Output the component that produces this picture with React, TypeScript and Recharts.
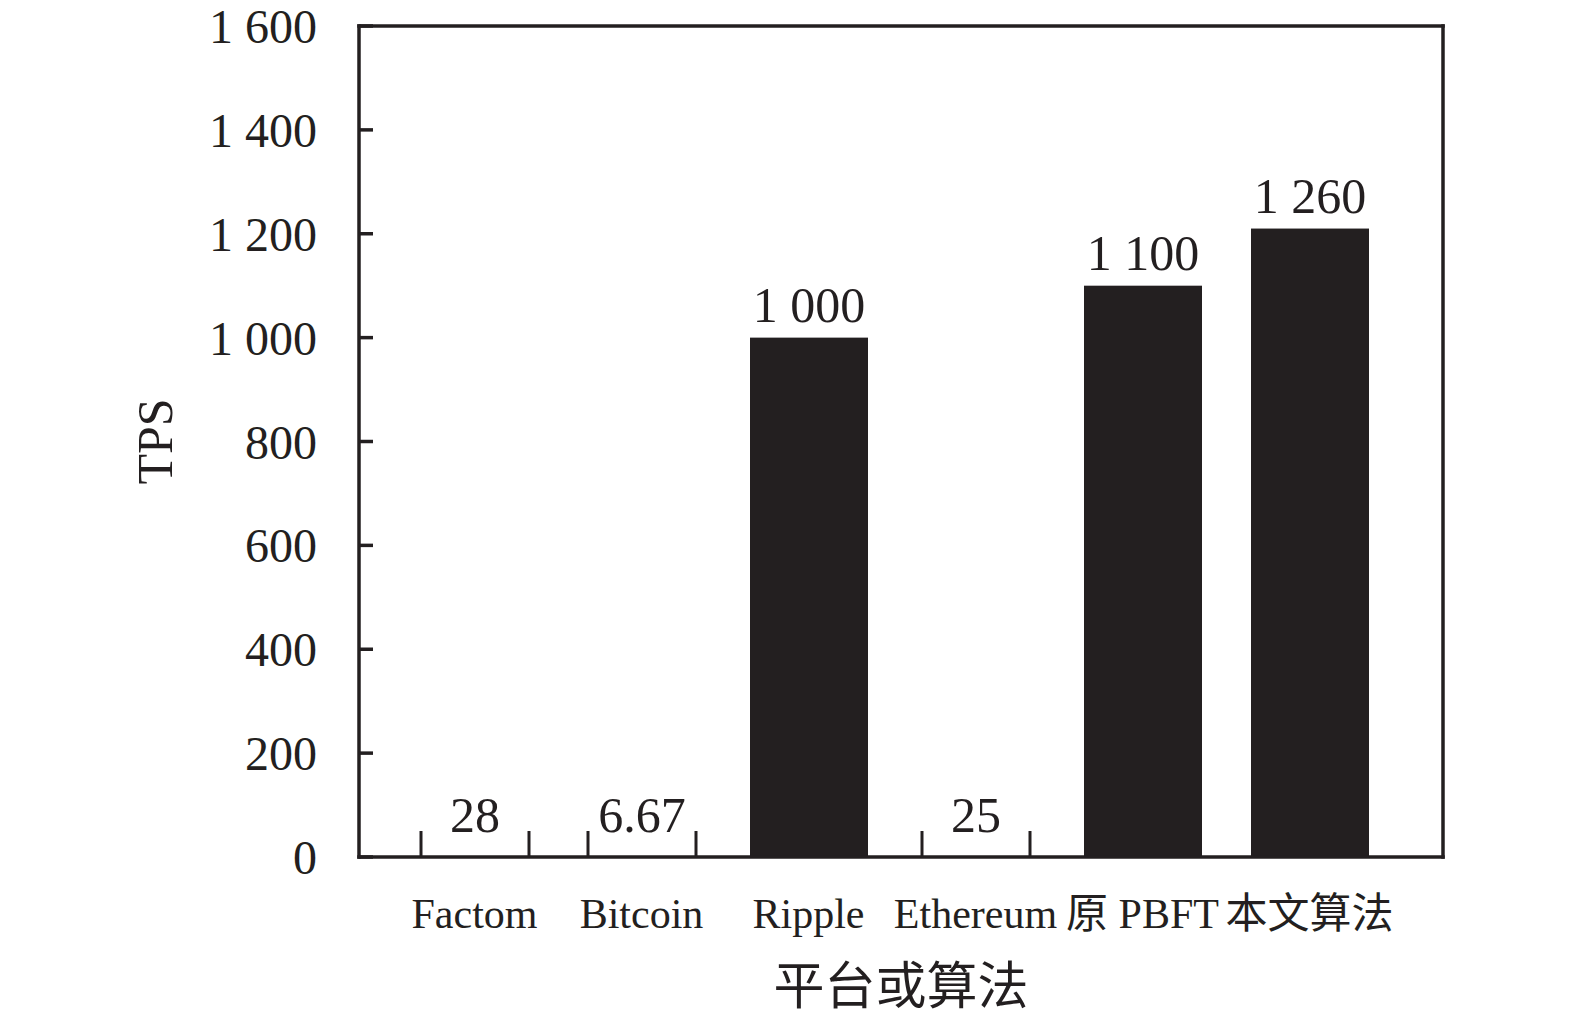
import React from 'react';
import { BarChart, Bar, XAxis, YAxis } from 'recharts';

const categories = ['Factom', 'Bitcoin', 'Ripple', 'Ethereum', '原 PBFT', '本文算法'];
// bar heights as drawn in the picture (read against the y ticks)
const barValues = [28, 6.67, 1000, 25, 1100, 1210];
// value labels printed above the bars
const valueLabels = ['28', '6.67', '1 000', '25', '1 100', '1 260'];
const yTicks = [0, 200, 400, 600, 800, 1000, 1200, 1400, 1600];
const yTickLabels = ['0', '200', '400', '600', '800', '1 000', '1 200', '1 400', '1 600'];
const xAxisTitle = '平台或算法';
const yAxisTitle = 'TPS';

const data = categories.map((name, i) => ({ name, tps: barValues[i] }));

const INK = '#231f20';
const SERIF = '"Liberation Serif", "Times New Roman", "Noto Sans CJK SC", serif';
const MIN_H = 26;
const FRAME_W = 3.5;

const BarShape = (props: any) => {
  const { x, y, width, height } = props;
  if (height <= MIN_H + 0.5) {
    const inset = 5;
    return (
      <g>
        <line x1={x + inset} x2={x + inset} y1={y} y2={y + height} stroke={INK} strokeWidth={3} />
        <line x1={x + width - inset} x2={x + width - inset} y1={y} y2={y + height} stroke={INK} strokeWidth={3} />
      </g>
    );
  }
  return <rect x={x} y={y} width={width} height={height} fill={INK} />;
};

const renderBarLabel = (props: any) => {
  const vb = props.viewBox && props.viewBox.width !== undefined ? props.viewBox : props;
  const { x, y, width, height } = vb;
  let idx = props.index;
  if (idx === undefined || idx === null) idx = barValues.indexOf(Number(props.value));
  const small = height <= MIN_H + 0.5;
  const baseline = small ? y + 1 : y - 16;
  return (
    <text x={x + width / 2} y={baseline} textAnchor="middle" fontFamily={SERIF} fontSize={50} fill={INK}>
      {valueLabels[idx]}
    </text>
  );
};

const YTick = (props: any) => {
  const { x, y, payload } = props;
  const i = yTicks.indexOf(payload.value);
  return (
    <g>
      <line x1={x + 42} x2={x + 42 + 14} y1={y} y2={y} stroke={INK} strokeWidth={3.5} />
      <text x={x} y={y + 17} textAnchor="end" fontFamily={SERIF} fontSize={48} fill={INK}>
        {yTickLabels[i]}
      </text>
    </g>
  );
};

const XTick = (props: any) => {
  const { x, y, payload } = props;
  return (
    <text x={x} y={y + 71} textAnchor="middle" fontFamily={SERIF} fontSize={42} fill={INK}>
      {payload.value}
    </text>
  );
};

const renderXLabel = (props: any) => {
  const vb = props.viewBox || {};
  return (
    <text x={vb.x + vb.width / 2} y={1004} textAnchor="middle" fontFamily={SERIF} fontSize={51} fill={INK}>
      {xAxisTitle}
    </text>
  );
};

const renderYLabel = (props: any) => {
  const vb = props.viewBox || {};
  const cx = 146.5;
  const cy = vb.y + vb.height / 2;
  return (
    <text
      x={cx}
      y={cy}
      transform={`rotate(-90 ${cx} ${cy})`}
      textAnchor="middle"
      dominantBaseline="central"
      fontFamily={SERIF}
      fontSize={50}
      fill={INK}
    >
      {yAxisTitle}
    </text>
  );
};

export default function App() {
  const frame = { stroke: INK, strokeWidth: FRAME_W, strokeLinecap: 'square' as const };
  return (
    <div style={{ width: 1560, height: 1014, marginTop: -8, background: '#fff' }}>
      <BarChart width={1560} height={1014} data={data} margin={{ top: 25, right: 124, bottom: 0, left: 0 }}>
        <XAxis
          dataKey="name"
          type="category"
          interval={0}
          padding={{ left: 32, right: 50 }}
          height={157}
          tickSize={0}
          tickMargin={0}
          tickLine={false}
          axisLine={frame}
          tick={<XTick />}
          label={renderXLabel}
        />
        <XAxis
          xAxisId="top"
          orientation="top"
          dataKey="name"
          height={1}
          tick={false}
          tickLine={false}
          axisLine={frame}
        />
        <YAxis
          domain={[0, 1600]}
          ticks={yTicks}
          interval={0}
          width={351}
          tickSize={0}
          tickMargin={42}
          tickLine={false}
          axisLine={frame}
          tick={<YTick />}
          label={renderYLabel}
        />
        <YAxis
          yAxisId="right"
          orientation="right"
          domain={[0, 1600]}
          width={1}
          tick={false}
          tickLine={false}
          axisLine={frame}
        />
        <Bar
          dataKey="tps"
          barSize={118}
          minPointSize={MIN_H}
          shape={<BarShape />}
          label={renderBarLabel}
          isAnimationActive={false}
        />
      </BarChart>
    </div>
  );
}
